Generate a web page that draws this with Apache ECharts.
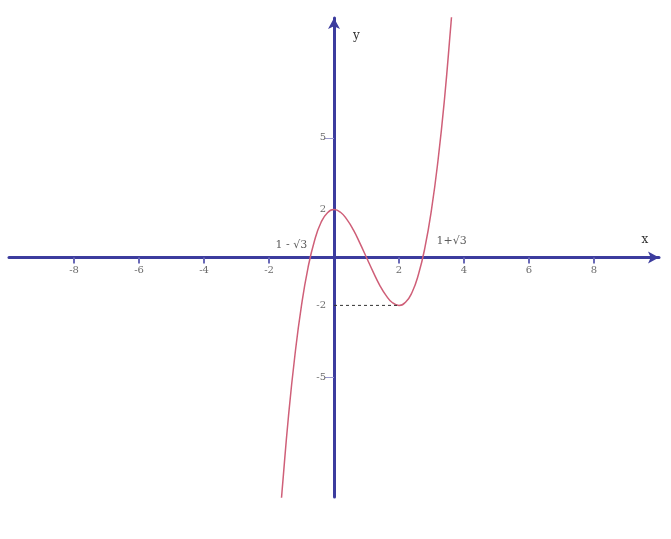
<!DOCTYPE html>
<html>
<head>
<meta charset="utf-8">
<script src="https://cdn.jsdelivr.net/npm/echarts@6/dist/echarts.min.js"></script>
<style>html,body{margin:0;padding:0;background:#fff}#c{width:671px;height:539px}</style>
</head>
<body>
<div id="c"></div>
<script>
// Curve points
var curveX = [-1.62,-1.6,-1.4,-1.2,-1.0,-0.8,-0.6,-0.4,-0.2,0,0.2,0.4,0.6,0.8,1.0,1.2,1.4,1.6,1.8,2.0,2.2,2.4,2.6,2.8,3.0,3.2,3.4,3.6,3.62];
var curveY = [-10.12,-9.78,-6.62,-4.05,-2,-0.43,0.70,1.46,1.87,2,1.89,1.58,1.14,0.59,0,-0.59,-1.14,-1.58,-1.89,-2,-1.87,-1.46,-0.70,0.43,2,4.05,6.62,9.78,10.12];
// Dashed guide at the minimum
var guideX = [0, 2];
var guideY = [-2, -2];
// Tick labels
var xTickLabels = [-8,-6,-4,-2,2,4,6,8];
var yTickLabels = [-5,-2,2,5];
var yTickMarks = [-5,5];
// Root annotations
var rootLabels = ['1 - \u221A3', '1+\u221A3'];
var rootX = [-0.73, 2.73];

var axisColor = '#3c3c9e';
var font = '"DejaVu Serif", serif';
var labelStyle = {show: true, color: '#444', fontFamily: font, fontSize: 10};

var chart = echarts.init(document.getElementById('c'));
chart.setOption({
  backgroundColor: '#ffffff',
  animation: false,
  grid: {left: 9, right: 12, top: 18, bottom: 42, outerBoundsMode: 'none', containLabel: false},
  xAxis: {
    type: 'value', min: -10, max: 10, interval: 2,
    name: 'x', nameLocation: 'end', nameGap: -14,
    nameTextStyle: {color: '#333', fontFamily: font, fontSize: 12, align: 'center', verticalAlign: 'bottom', padding: [0,0,12,0]},
    axisLine: {onZero: true, lineStyle: {color: axisColor, width: 3}, symbol: ['none','arrow'], symbolSize: [9,11]},
    axisTick: {show: true, customValues: xTickLabels, length: 6, lineStyle: {color: '#6a6ab8', width: 2}},
    axisLabel: {show: false},
    splitLine: {show: false}
  },
  yAxis: {
    type: 'value', min: -10, max: 10, interval: 5,
    name: 'y', nameLocation: 'end', nameGap: -24,
    nameTextStyle: {color: '#333', fontFamily: font, fontSize: 12, align: 'left', padding: [0,0,0,19]},
    axisLine: {onZero: true, lineStyle: {color: axisColor, width: 3}, symbol: ['none','arrow'], symbolSize: [9,11]},
    axisTick: {show: true, customValues: yTickMarks, length: 9, lineStyle: {color: '#9a9ad0', width: 1}},
    axisLabel: {show: false},
    splitLine: {show: false}
  },
  series: [
    {
      type: 'line', smooth: true, symbol: 'none', clip: true,
      data: curveX.map(function(x, i){ return [x, curveY[i]]; }),
      lineStyle: {color: '#cf5f78', width: 1.5}
    },
    {
      type: 'line', symbol: 'none',
      data: guideX.map(function(x, i){ return [x, guideY[i]]; }),
      lineStyle: {color: '#333', width: 1, type: [3,3]}
    },
    {
      type: 'scatter', symbolSize: 0, silent: true,
      data: xTickLabels.map(function(v){ return [v, 0]; }),
      label: Object.assign({position: 'bottom', distance: 8, formatter: function(p){ return String(p.value[0]); }}, labelStyle)
    },
    {
      type: 'scatter', symbolSize: 0, silent: true,
      data: yTickLabels.map(function(v){ return [0, v]; }),
      label: Object.assign({position: 'left', distance: 8, formatter: function(p){ return String(p.value[1]); }}, labelStyle)
    },
    {
      type: 'scatter', symbolSize: 0, silent: true,
      data: [
        {value: [rootX[0], 0], label: {formatter: rootLabels[0], offset: [-19, 0], distance: 7}},
        {value: [rootX[1], 0], label: {formatter: rootLabels[1], offset: [29, 0], distance: 11}}
      ],
      label: {show: true, position: 'top', color: '#333', fontFamily: font, fontSize: 11}
    }
  ]
});
</script>
</body>
</html>
